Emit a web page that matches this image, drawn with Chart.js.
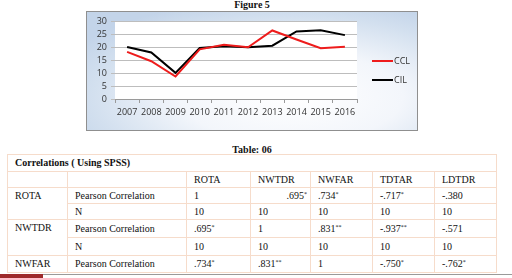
<!DOCTYPE html>
<html>
<head>
    <meta charset="UTF-8" />
    <title>Figure 5 / Table 06</title>
    <script src="https://cdn.jsdelivr.net/npm/chart.js"></script>
    <style>
        * { margin: 0; padding: 0; box-sizing: border-box; }
        body { width: 512px; height: 278px; background: #fff; position: relative; overflow: hidden;
               font-family: 'Liberation Serif', 'Times New Roman', serif; color: #111; }
        .caption { position: absolute; font-weight: bold; font-size: 10px; text-align: center; width: 120px; }
        .chart-box {
            position: absolute; left: 86px; top: 11px; width: 332px; height: 120px;
            border: 1px solid #8f8f8f;
            background: radial-gradient(ellipse 75% 85% at 62% 72%, #ffffff 0%, #f3f6fb 45%, #d3e0ef 80%, #c3d4e9 100%);
        }
        .chart-box canvas { display: block; }
        table.corr { position: absolute; left: 7px; top: 154px; width: 489px; border-collapse: collapse;
                     font-size: 10px; line-height: 12px; table-layout: fixed; }
        table.corr td { border: 1px solid #f6dccb; padding: 0 0 0 7px; white-space: nowrap; vertical-align: middle; overflow: hidden; }
        table.corr td.r { text-align: right; padding-right: 3px; }
        table.corr td.lab { vertical-align: top; padding-top: 2px; }
        table.corr sup { font-size: 6px; vertical-align: 3px; line-height: 0; }
        .foot-line { position: absolute; left: 0; top: 274px; width: 512px; height: 1px; background: #9a9a9a; }
        .foot-red { position: absolute; left: 0; top: 274px; width: 43px; height: 4px; background: #9e2a2b; }
    </style>
</head>
<body>

<div class="caption" style="left:192px; top:-1px;">Figure 5</div>

<div class="chart-box">
    <canvas id="lineChart" width="330" height="118"></canvas>
</div>

<div class="caption" style="left:192px; top:144px;">Table: 06</div>
<table class="corr" id="corrTable"></table>

<div class="foot-line"></div>
<div class="foot-red"></div>

<script>
    // chart data
    const years = ['2007', '2008', '2009', '2010', '2011', '2012', '2013', '2014', '2015', '2016'];
    const ccl = [18.2, 14.6, 8.7, 19.2, 21.0, 20.0, 26.5, 23.0, 19.6, 20.2];
    const cil = [20.1, 18.0, 10.1, 19.7, 20.4, 20.0, 20.6, 26.1, 26.6, 24.7];

    // table data
    const tableTitle = 'Correlations ( Using SPSS)';
    const tableCols = ['ROTA', 'NWTDR', 'NWFAR', 'TDTAR', 'LDTDR'];
    const rowVars = ['ROTA', 'NWTDR', 'NWFAR'];
    const pearson = [
        ['1', '.695*', '.734*', '-.717*', '-.380'],
        ['.695*', '1', '.831**', '-.937**', '-.571'],
        ['.734*', '.831**', '1', '-.750*', '-.762*']
    ];
    const nValues = ['10', '10', '10', '10', '10'];

    // small legend drawn at the right side of the chart box
    const sideLegend = {
        id: 'sideLegend',
        afterDraw(chart) {
            const ctx = chart.ctx;
            ctx.save();
            ctx.font = '9px "Open Sans", sans-serif';
            ctx.textBaseline = 'middle';
            chart.data.datasets.forEach((ds, i) => {
                const y = 49 + i * 19;
                ctx.strokeStyle = ds.borderColor;
                ctx.lineWidth = 2;
                ctx.beginPath();
                ctx.moveTo(285, y);
                ctx.lineTo(306, y);
                ctx.stroke();
                ctx.fillStyle = '#333';
                ctx.fillText(ds.label, 307, y);
            });
            ctx.restore();
        }
    };

    new Chart(document.getElementById('lineChart'), {
        type: 'line',
        data: {
            labels: years,
            datasets: [
                { label: 'CCL', data: ccl, borderColor: '#ee1c1c', borderWidth: 2, pointRadius: 0, tension: 0 },
                { label: 'CIL', data: cil, borderColor: '#000000', borderWidth: 2, pointRadius: 0, tension: 0 }
            ]
        },
        options: {
            responsive: false,
            animation: false,
            layout: { padding: { top: 9, right: 60, left: 0, bottom: 0 } },
            plugins: {
                legend: { display: false },
                tooltip: { enabled: false }
            },
            scales: {
                x: {
                    offset: true,
                    grid: { offset: true, drawOnChartArea: false, drawTicks: true, tickLength: 4, color: '#9a9a9a' },
                    border: { color: '#9a9a9a' },
                    ticks: { font: { size: 9, family: '"Open Sans", sans-serif' }, color: '#333', padding: 4, maxRotation: 0, autoSkip: false },
                    afterFit(s) { s.height = 31; }
                },
                y: {
                    min: 0, max: 30,
                    grid: { color: '#bdbdbd', lineWidth: 1, tickLength: 4 },
                    border: { display: false },
                    ticks: { stepSize: 5, autoSkip: false, font: { size: 9, family: '"Open Sans", sans-serif' }, color: '#333', padding: 4 },
                    afterFit(s) { s.width = 28; }
                }
            }
        },
        plugins: [{
            id: 'chartAreaBg',
            beforeDraw(chart) {
                const a = chart.chartArea;
                chart.ctx.save();
                chart.ctx.fillStyle = '#fff';
                chart.ctx.fillRect(a.left, a.top, a.right - a.left, a.bottom - a.top);
                chart.ctx.restore();
            }
        }, sideLegend]
    });

    // build table
    function cell(v, right) {
        const m = v.match(/^(.*?)(\*+)$/);
        const txt = m ? m[1] + '<sup>' + m[2] + '</sup>' : v;
        return '<td' + (right ? ' class="r"' : '') + '>' + txt + '</td>';
    }
    const widths = [60, 119, 64, 60, 62, 62, 62];
    const heights = [17, 16, 16, 16, 18, 18, 17];
    let html = '<colgroup>' + widths.map(w => '<col style="width:' + w + 'px">').join('') + '</colgroup>';
    html += '<tr style="height:' + heights[0] + 'px"><td colspan="7" style="font-weight:bold">' + tableTitle + '</td></tr>';
    html += '<tr style="height:' + heights[1] + 'px"><td></td><td></td>' + tableCols.map(c => '<td>' + c + '</td>').join('') + '</tr>';
    let h = 2;
    rowVars.forEach((rv, i) => {
        const last = i === rowVars.length - 1;
        html += '<tr style="height:' + heights[h++] + 'px"><td class="lab"' + (last ? '' : ' rowspan="2"') + '>' + rv + '</td><td>Pearson Correlation</td>' +
            pearson[i].map((v, j) => cell(v, i === 0 && j === 1)).join('') + '</tr>';
        if (!last) {
            html += '<tr style="height:' + heights[h++] + 'px"><td>N</td>' + nValues.map(v => cell(v)).join('') + '</tr>';
        }
    });
    document.getElementById('corrTable').innerHTML = html;
</script>

</body>
</html>
